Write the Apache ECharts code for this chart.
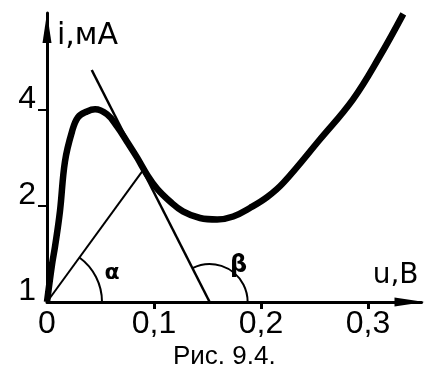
<!DOCTYPE html>
<html>
<head>
<meta charset="utf-8">
<script src="https://cdn.jsdelivr.net/npm/echarts@6/dist/echarts.min.js"></script>
<style>
  html, body { margin: 0; padding: 0; background: #fff; }
  #chart { width: 440px; height: 376px; }
</style>
</head>
<body>
<div id="chart"></div>
<script>
// вольт-амперная характеристика (u, В -> i, мА)
var curveU = [0, 0.0047, 0.0075, 0.0121, 0.0168, 0.0234, 0.029, 0.0374, 0.0449, 0.0561, 0.0654, 0.0748, 0.0841, 0.0935, 0.1028, 0.115, 0.127, 0.143, 0.159, 0.174, 0.190, 0.206, 0.221, 0.255, 0.286, 0.311, 0.333];
var curveI = [1, 1.31, 1.49, 1.92, 2.75, 3.41, 3.78, 3.94, 4.0, 3.86, 3.54, 3.17, 2.83, 2.50, 2.26, 2.06, 1.92, 1.83, 1.81, 1.85, 1.97, 2.13, 2.36, 3.22, 4.30, 5.86, 7.95];
// касательная и хорда
var tangentU = [0.0418, 0.152];
var tangentI = [5.31, 1];
var chordU = [0, 0.0905];
var chordI = [1, 2.6];
// углы: вершина + точка на стороне
var angleNames = ['α', 'β'];
var angleVertex = [[0, 1], [0.152, 1]];
var angleSide = [[0.0905, 2.6], [0.0418, 5.31]];
// оси
var xLabelValues = [0, 0.1, 0.2, 0.3];
var xTickValues = [0.1, 0.2, 0.3];
var yLabelValues = [1, 2, 4];
var yTickValues = [2, 4];

function zip (a, b) {
  return a.map(function (v, k) { return [v, b[k]] })
}

var arcR = [55, 38];
var nameOffset = [[65, -29], [29, -36]];
var nameSize = [22, 24];

var myChart = echarts.init(document.getElementById('chart'));
var option = {
  animation: false,
  title: {
    text: 'Рис. 9.4.',
    left: 173,
    top: 344,
    padding: 0,
    textStyle: { fontSize: 26, fontWeight: 'normal', color: '#000', fontFamily: 'Liberation Sans' }
  },
  grid: { left: 47, top: 13, right: 18.5, bottom: 74, outerBoundsMode: 'none' },
  xAxis: {
    type: 'value',
    min: 0,
    max: 0.35,
    name: 'u,B',
    nameLocation: 'end',
    nameGap: -3,
    nameMoveOverlap: false,
    nameTextStyle: {
      fontFamily: 'DejaVu Sans', fontSize: 28, color: '#000',
      align: 'right', verticalAlign: 'bottom', padding: [0, 0, 12, 0]
    },
    splitLine: { show: false },
    axisLine: {
      onZero: false,
      symbol: ['none', 'triangle'],
      symbolSize: [9, 30],
      symbolOffset: [0, -12],
      lineStyle: { color: '#000', width: 3 }
    },
    axisTick: { customValues: xTickValues, length: 7, lineStyle: { color: '#000', width: 3 } },
    axisLabel: {
      customValues: xLabelValues,
      margin: 6,
      fontFamily: 'Liberation Sans', fontSize: 32, color: '#000',
      formatter: function (v) { return String(v).replace('.', ',') }
    }
  },
  yAxis: {
    type: 'log',
    logBase: 2,
    min: 1,
    max: 8,
    name: 'i,мА',
    nameLocation: 'end',
    nameGap: -23,
    nameMoveOverlap: false,
    nameTextStyle: {
      fontFamily: 'DejaVu Sans', fontSize: 30, color: '#000',
      align: 'left', verticalAlign: 'middle', padding: [0, 0, 0, 10]
    },
    splitLine: { show: false },
    axisLine: {
      symbol: ['none', 'triangle'],
      symbolSize: [9, 30],
      symbolOffset: [0, -15],
      lineStyle: { color: '#000', width: 3 }
    },
    axisTick: { customValues: yTickValues, length: 9, lineStyle: { color: '#000', width: 2 } },
    axisLabel: {
      customValues: yLabelValues,
      margin: 11,
      verticalAlign: 'bottom',
      lineHeight: 21,
      fontFamily: 'Liberation Sans', fontSize: 32, color: '#000'
    }
  },
  series: [
    {
      type: 'line',
      data: zip(curveU, curveI),
      smooth: 0.4,
      showSymbol: false,
      lineStyle: { color: '#000', width: 6.5 }
    },
    {
      type: 'line',
      data: zip(tangentU, tangentI),
      showSymbol: false,
      lineStyle: { color: '#000', width: 2.5 }
    },
    {
      type: 'line',
      data: zip(chordU, chordI),
      showSymbol: false,
      lineStyle: { color: '#000', width: 2 }
    },
    {
      type: 'custom',
      data: angleVertex.map(function (p, k) { return p.concat(angleSide[k]) }),
      renderItem: function (params, api) {
        var k = params.dataIndex;
        var v = api.coord([api.value(0), api.value(1)]);
        var o = api.coord([api.value(2), api.value(3)]);
        var a = Math.atan2(o[1] - v[1], o[0] - v[0]);
        return {
          type: 'group',
          children: [
            {
              type: 'arc',
              shape: { cx: v[0], cy: v[1], r: arcR[k], startAngle: a, endAngle: 0, clockwise: true },
              style: { stroke: '#000', fill: 'none', lineWidth: 2 }
            },
            {
              type: 'text',
              x: v[0] + nameOffset[k][0],
              y: v[1] + nameOffset[k][1],
              style: {
                text: angleNames[k], fill: '#000', fontSize: nameSize[k], fontWeight: 'bold',
                fontFamily: 'DejaVu Sans', align: 'center', verticalAlign: 'middle'
              }
            }
          ]
        };
      }
    }
  ]
};
myChart.setOption(option);
</script>
</body>
</html>
